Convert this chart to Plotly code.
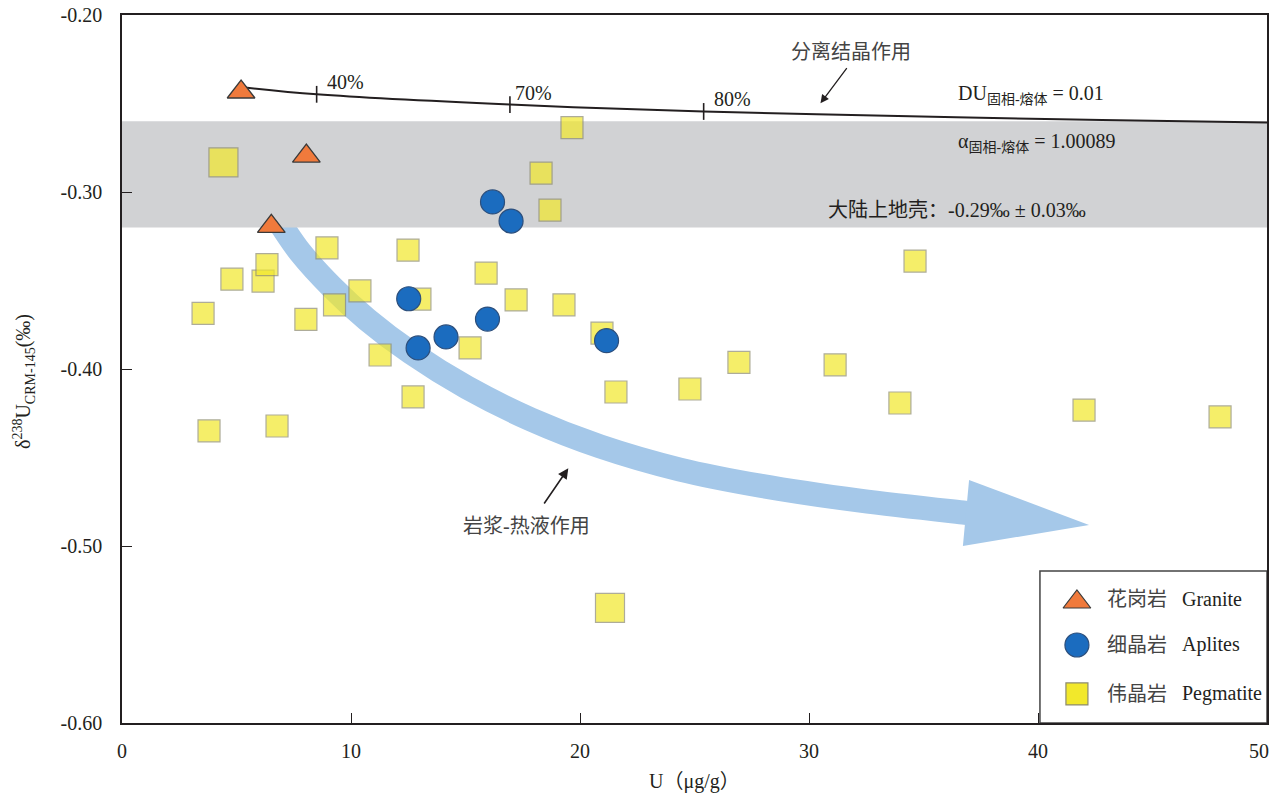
import plotly.graph_objects as go

# ---- data ---------------------------------------------------------------
# Granite
granite_u = [5.20, 8.05, 6.52]
granite_d = [-0.2435, -0.2797, -0.3194]

# Aplites
aplite_u = [16.18, 16.99, 12.52, 14.15, 12.93, 15.96, 21.16]
aplite_d = [-0.3056, -0.3164, -0.3603, -0.3819, -0.3881, -0.3718, -0.3840]

# Pegmatite
pegmatite_u = [4.43, 19.65, 18.30, 18.69, 8.95, 12.49, 15.90, 4.80, 6.16, 6.33,
               3.54, 8.03, 9.28, 10.39, 13.01, 17.21, 19.30, 11.27, 15.20, 20.96,
               12.71, 21.57, 3.80, 6.77, 34.63, 26.94, 24.80, 31.14, 33.97, 42.01,
               47.95, 21.31]
pegmatite_d = [-0.2833, -0.2636, -0.2893, -0.3102, -0.3316, -0.3328, -0.3458, -0.3492, -0.3503, -0.3410,
               -0.3686, -0.3720, -0.3638, -0.3559, -0.3605, -0.3610, -0.3638, -0.3921, -0.3881, -0.3797,
               -0.4158, -0.4130, -0.4350, -0.4322, -0.3390, -0.3963, -0.4113, -0.3977, -0.4192, -0.4232,
               -0.4271, -0.5350]

# Fractional crystallisation trend (DU = 0.01, alpha = 1.00089)
frac_u = [5.07, 8.50, 16.94, 25.40, 36.42, 42.79, 50.0]
frac_d = [-0.2405, -0.2448, -0.2506, -0.2545, -0.2578, -0.2593, -0.2608]
frac_tick_u = [8.50, 16.94, 25.40]
frac_tick_d = [-0.2448, -0.2506, -0.2545]
frac_tick_labels = ["40%", "70%", "80%"]

# Magmatic-hydrothermal trend (broad arrow)
flow_u = [6.245, 6.856, 7.773, 9.170, 10.699, 12.620, 15.066, 17.860, 20.873, 24.367,
          27.860, 32.227, 36.812, 37.249]
flow_d = [-0.3056, -0.3169, -0.3339, -0.3538, -0.3720, -0.3908, -0.4105, -0.4285, -0.4437, -0.4568,
          -0.4659, -0.4744, -0.4812, -0.4818]
flow_head_u = [36.99, 42.23, 36.72]
flow_head_d = [-0.4627, -0.4881, -0.5000]

# Upper continental crust
crust_mean = -0.29
crust_sd = 0.03

# Axes (the last x label sits flush with the frame, drawn separately)
x_tick_vals = [0, 10, 20, 30, 40, 50]
x_tick_text = ["0", "10", "20", "30", "40", ""]
x_last_label = "50"
y_tick_vals = [-0.60, -0.50, -0.40, -0.30, -0.20]
y_tick_text = ["-0.60", "-0.50", "-0.40", "-0.30", "-0.20"]

legend_labels_cn = ["花岗岩", "细晶岩", "伟晶岩"]
legend_labels_en = ["Granite", "Aplites", "Pegmatite"]

# ---- styles -------------------------------------------------------------
FONT = "Liberation Serif, Noto Sans CJK SC, serif"
INK = "#231f20"
CN_INK = "#444444"
TRI_FILL, TRI_EDGE = "#f07a3c", "#3a3a3a"
CIR_FILL, CIR_EDGE = "#1b6cbf", "#2d4f7c"
SQ_FILL, SQ_EDGE = "#f2e82b", "#8c8a6e"
BAND_GREY = "#d1d2d4"
FLOW_BLUE = "#a5c8e9"

pegmatite_size = [22] * len(pegmatite_u)
pegmatite_size[0] = 29
pegmatite_size[-1] = 29

fig = go.Figure()

# broad hydrothermal arrow: shaft + head
fig.add_trace(go.Scatter(x=flow_u, y=flow_d, mode="lines",
                         line=dict(color=FLOW_BLUE, width=24, shape="spline"),
                         hoverinfo="skip", showlegend=False))
fig.add_trace(go.Scatter(x=flow_head_u, y=flow_head_d, mode="lines", fill="toself",
                         fillcolor=FLOW_BLUE, line=dict(width=0, color=FLOW_BLUE),
                         hoverinfo="skip", showlegend=False))

# upper crust band
band_top = crust_mean + crust_sd
band_bot = crust_mean - crust_sd
fig.add_trace(go.Scatter(x=[0, 50, 50, 0, 0], y=[band_top, band_top, band_bot, band_bot, band_top],
                         mode="lines", fill="toself", fillcolor=BAND_GREY,
                         line=dict(width=0, color=BAND_GREY), hoverinfo="skip", showlegend=False))

# fractional crystallisation curve with ticks
fig.add_trace(go.Scatter(x=frac_u, y=frac_d, mode="lines",
                         line=dict(color=INK, width=2, shape="spline"),
                         hoverinfo="skip", showlegend=False))
fig.add_trace(go.Scatter(x=frac_tick_u, y=frac_tick_d, mode="markers",
                         marker=dict(symbol="line-ns", size=12, line=dict(color=INK, width=1.6)),
                         hoverinfo="skip", showlegend=False))

# samples
fig.add_trace(go.Scatter(x=pegmatite_u, y=pegmatite_d, mode="markers", name="Pegmatite",
                         marker=dict(symbol="square", size=pegmatite_size, color=SQ_FILL,
                                     line=dict(color=SQ_EDGE, width=1.2)), showlegend=False))
fig.add_trace(go.Scatter(x=aplite_u, y=aplite_d, mode="markers", name="Aplites",
                         marker=dict(symbol="circle", size=24, color=CIR_FILL,
                                     line=dict(color=CIR_EDGE, width=1.2)), showlegend=False))
fig.add_trace(go.Scatter(x=granite_u, y=granite_d, mode="markers", name="Granite",
                         marker=dict(symbol="triangle-up", size=24, color=TRI_FILL,
                                     line=dict(color=TRI_EDGE, width=1.3)), showlegend=False))

# legend swatches on an overlay axis in plot-fraction units
legend_y = [0.1709, 0.1102, 0.0410]
legend_sym = ["triangle-up", "circle", "square"]
legend_fill = [TRI_FILL, CIR_FILL, SQ_FILL]
legend_edge = [TRI_EDGE, CIR_EDGE, SQ_EDGE]
legend_msize = [24, 24, 22]
for yy, sym, fc, ec, ms in zip(legend_y, legend_sym, legend_fill, legend_edge, legend_msize):
    fig.add_trace(go.Scatter(x=[0.834], y=[yy], xaxis="x2", yaxis="y2", mode="markers",
                             marker=dict(symbol=sym, size=ms, color=fc, line=dict(color=ec, width=1.2)),
                             hoverinfo="skip", showlegend=False))

annotations = []
text_y = [0.1751, 0.1102, 0.0410]
for yy, cn, en in zip(text_y, legend_labels_cn, legend_labels_en):
    annotations.append(dict(x=0.8585, y=yy, xref="paper", yref="paper", text=cn, showarrow=False,
                            xanchor="left", yanchor="middle", font=dict(family=FONT, size=20, color=CN_INK)))
    annotations.append(dict(x=0.924, y=yy, xref="paper", yref="paper", text=en, showarrow=False,
                            xanchor="left", yanchor="middle", font=dict(family=FONT, size=20, color=INK)))

# crystallisation percentages
label_pos = [(9.76, -0.2376), (17.95, -0.2441), (26.64, -0.2475)]
for (lx, ly), lab in zip(label_pos, frac_tick_labels):
    annotations.append(dict(x=lx, y=ly, xref="x", yref="y", text=lab, showarrow=False,
                            xanchor="center", yanchor="middle", font=dict(family=FONT, size=20, color=INK)))

# process labels and arrows
annotations += [
    dict(x=31.83, y=-0.2209, xref="x", yref="y", text="分离结晶作用", showarrow=False,
         font=dict(family=FONT, size=20, color=CN_INK)),
    dict(x=30.50, y=-0.2499, ax=31.70, ay=-0.2292, xref="x", yref="y", axref="x", ayref="y",
         text="", showarrow=True, arrowhead=2, arrowsize=1.3, arrowwidth=1.3, arrowcolor=INK),
    dict(x=17.67, y=-0.4887, xref="x", yref="y", text="岩浆-热液作用", showarrow=False,
         font=dict(family=FONT, size=20, color=CN_INK)),
    dict(x=19.49, y=-0.4561, ax=18.39, ay=-0.4768, xref="x", yref="y", axref="x", ayref="y",
         text="", showarrow=True, arrowhead=2, arrowsize=1.3, arrowwidth=1.6, arrowcolor=INK),
    dict(x=36.42, y=-0.2449, xref="x", yref="y", xanchor="left", yanchor="middle", showarrow=False,
         text="DU<sub>固相-熔体</sub> = 0.01", font=dict(family=FONT, size=20, color=INK)),
    dict(x=36.42, y=-0.2723, xref="x", yref="y", xanchor="left", yanchor="middle", showarrow=False,
         text="α<sub>固相-熔体</sub> = 1.00089", font=dict(family=FONT, size=20, color=INK)),
    dict(x=30.74, y=-0.3102, xref="x", yref="y", xanchor="left", yanchor="middle", showarrow=False,
         text="大陆上地壳：-0.29‰ ± 0.03‰", font=dict(family=FONT, size=20, color=INK)),
    # last x tick label, kept inside the page
    dict(x=1.0, y=-0.0395, xref="paper", yref="paper", xanchor="right", yanchor="middle",
         xshift=4, showarrow=False, text=x_last_label, font=dict(family=FONT, size=20, color=INK)),
    # axis titles
    dict(x=0.5, y=-0.0833, xref="paper", yref="paper", xanchor="center", yanchor="middle",
         showarrow=False, text="U（μg/g）", font=dict(family=FONT, size=20, color=INK)),
    dict(x=-0.0856, y=0.483, xref="paper", yref="paper", xanchor="center", yanchor="middle",
         showarrow=False, textangle=-90, text="δ<sup>238</sup>U<sub>CRM-145</sub>(‰)",
         font=dict(family=FONT, size=20, color=INK)),
]

shapes = [
    dict(type="rect", xref="paper", yref="paper", x0=0.8017, x1=1.0, y0=0.0, y1=0.2147,
         fillcolor="white", line=dict(color="#444", width=1.5), layer="below"),
]

axis_common = dict(showline=True, mirror=True, linecolor=INK, linewidth=1.6,
                   ticks="inside", ticklen=10, tickwidth=1.3, tickcolor=INK,
                   showgrid=False, zeroline=False, automargin=False,
                   tickfont=dict(family=FONT, size=20, color=INK))

fig.update_layout(
    width=1273, height=793,
    margin=dict(l=122, r=6, t=15, b=70, autoexpand=False),
    paper_bgcolor="white", plot_bgcolor="white",
    showlegend=False,
    xaxis=dict(range=[0, 50], tickvals=x_tick_vals, ticktext=x_tick_text,
               ticklabelstandoff=9, **axis_common),
    yaxis=dict(range=[-0.60, -0.20], tickvals=y_tick_vals, ticktext=y_tick_text,
               ticklabelstandoff=14, **axis_common),
    xaxis2=dict(range=[0, 1], overlaying="x", anchor="y2", visible=False, fixedrange=True),
    yaxis2=dict(range=[0, 1], overlaying="y", anchor="x2", visible=False, fixedrange=True),
    annotations=annotations,
    shapes=shapes,
)

fig.write_html("out.html")
